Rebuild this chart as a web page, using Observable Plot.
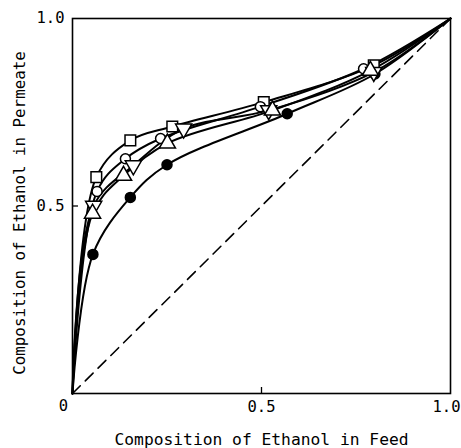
<!DOCTYPE html>
<html><head><meta charset="utf-8">
<script src="https://cdn.jsdelivr.net/npm/d3@7"></script>
<script src="https://cdn.jsdelivr.net/npm/@observablehq/plot@0.6"></script>
<style>body{margin:0;background:#fff}</style>
</head><body><div id="chart"></div>
<script>
// Composition of ethanol: feed (x) vs permeate (y)
const filledFeed = [0.054, 0.153, 0.250, 0.568, 0.800];
const filledPerm = [0.371, 0.523, 0.610, 0.746, 0.852];
const squareFeed = [0.063, 0.153, 0.264, 0.506, 0.797];
const squarePerm = [0.577, 0.675, 0.712, 0.777, 0.875];
const circleFeed = [0.065, 0.140, 0.233, 0.497, 0.770];
const circlePerm = [0.539, 0.626, 0.680, 0.765, 0.866];
const downFeed = [0.056, 0.161, 0.294, 0.519, 0.797];
const downPerm = [0.500, 0.608, 0.706, 0.755, 0.857];
const upFeed = [0.053, 0.135, 0.251, 0.529, 0.788];
const upPerm = [0.480, 0.581, 0.667, 0.755, 0.861];
const diagonal = [0, 1];
const yTicks = [0.5, 1.0];
const xLabel = "Composition of Ethanol in Feed";
const yLabel = "Composition of Ethanol in Permeate";

const series = [
  {name: "filled", xs: filledFeed, ys: filledPerm, symbol: "circle", fill: "black", rotate: 0},
  {name: "square", xs: squareFeed, ys: squarePerm, symbol: "square", fill: "white", rotate: 0},
  {name: "circle", xs: circleFeed, ys: circlePerm, symbol: "circle", fill: "white", rotate: 0},
  {name: "down", xs: downFeed, ys: downPerm, symbol: "triangle", fill: "white", rotate: 180},
  {name: "up", xs: upFeed, ys: upPerm, symbol: "triangle", fill: "white", rotate: 0}
];

const lineData = series.flatMap(s => [
  {s: s.name, x: 0, y: 0},
  ...s.xs.map((x, i) => ({s: s.name, x, y: s.ys[i]})),
  {s: s.name, x: 1, y: 1}
]);

const tickFmt = d3.format(".1f");
const marks = [
  Plot.line(diagonal.map(v => ({x: v, y: v})), {x: "x", y: "y", stroke: "black", strokeWidth: 1.6, strokeDasharray: "11,7"}),
  Plot.line(lineData, {x: "x", y: "y", z: "s", curve: "catmull-rom", stroke: "black", strokeWidth: 2}),
  ...series.map(s => Plot.dot(s.xs.map((x, i) => ({x, y: s.ys[i]})), {
    x: "x", y: "y", symbol: () => s.symbol, r: s.symbol === "circle" ? 5 : 6,
    fill: s.fill, stroke: "black", strokeWidth: 1.5, rotate: s.rotate
  })),
  Plot.frame({stroke: "black", strokeWidth: 1.6}),
  Plot.ruleY([0.5], {x1: 0, x2: 0.016, stroke: "black", strokeWidth: 1.3}),
  Plot.ruleX([0.5], {y1: 0, y2: 0.016, stroke: "black", strokeWidth: 1.3}),
  Plot.axisX([0.5], {tickSize: 0, tickPadding: 7, tickFormat: tickFmt, label: null}),
  Plot.axisX([1.0], {tickSize: 0, tickPadding: 7, tickFormat: tickFmt, textAnchor: "end", dx: 10, label: null}),
  Plot.axisY(yTicks, {tickSize: 0, tickPadding: 8, tickFormat: tickFmt, label: null}),
  Plot.text([{x: 0, y: 0, t: "0"}], {x: "x", y: "y", text: "t", dx: -9, dy: 13}),
  Plot.text([xLabel], {frameAnchor: "bottom", dy: 51, fontSize: 16.3, textAnchor: "middle"}),
  Plot.text([yLabel], {frameAnchor: "left", textAnchor: "middle", rotate: -90, dx: -53, dy: 7, fontSize: 15.8})
];

const chart = Plot.plot({
  width: 461, height: 448,
  marginLeft: 72, marginRight: 11, marginTop: 18, marginBottom: 55,
  style: {fontFamily: "'DejaVu Sans Mono', monospace", fontSize: "15.5px", color: "black", background: "white"},
  x: {domain: [0, 1]},
  y: {domain: [0, 1]},
  marks
});
document.getElementById("chart").appendChild(chart);
</script>
</body></html>
